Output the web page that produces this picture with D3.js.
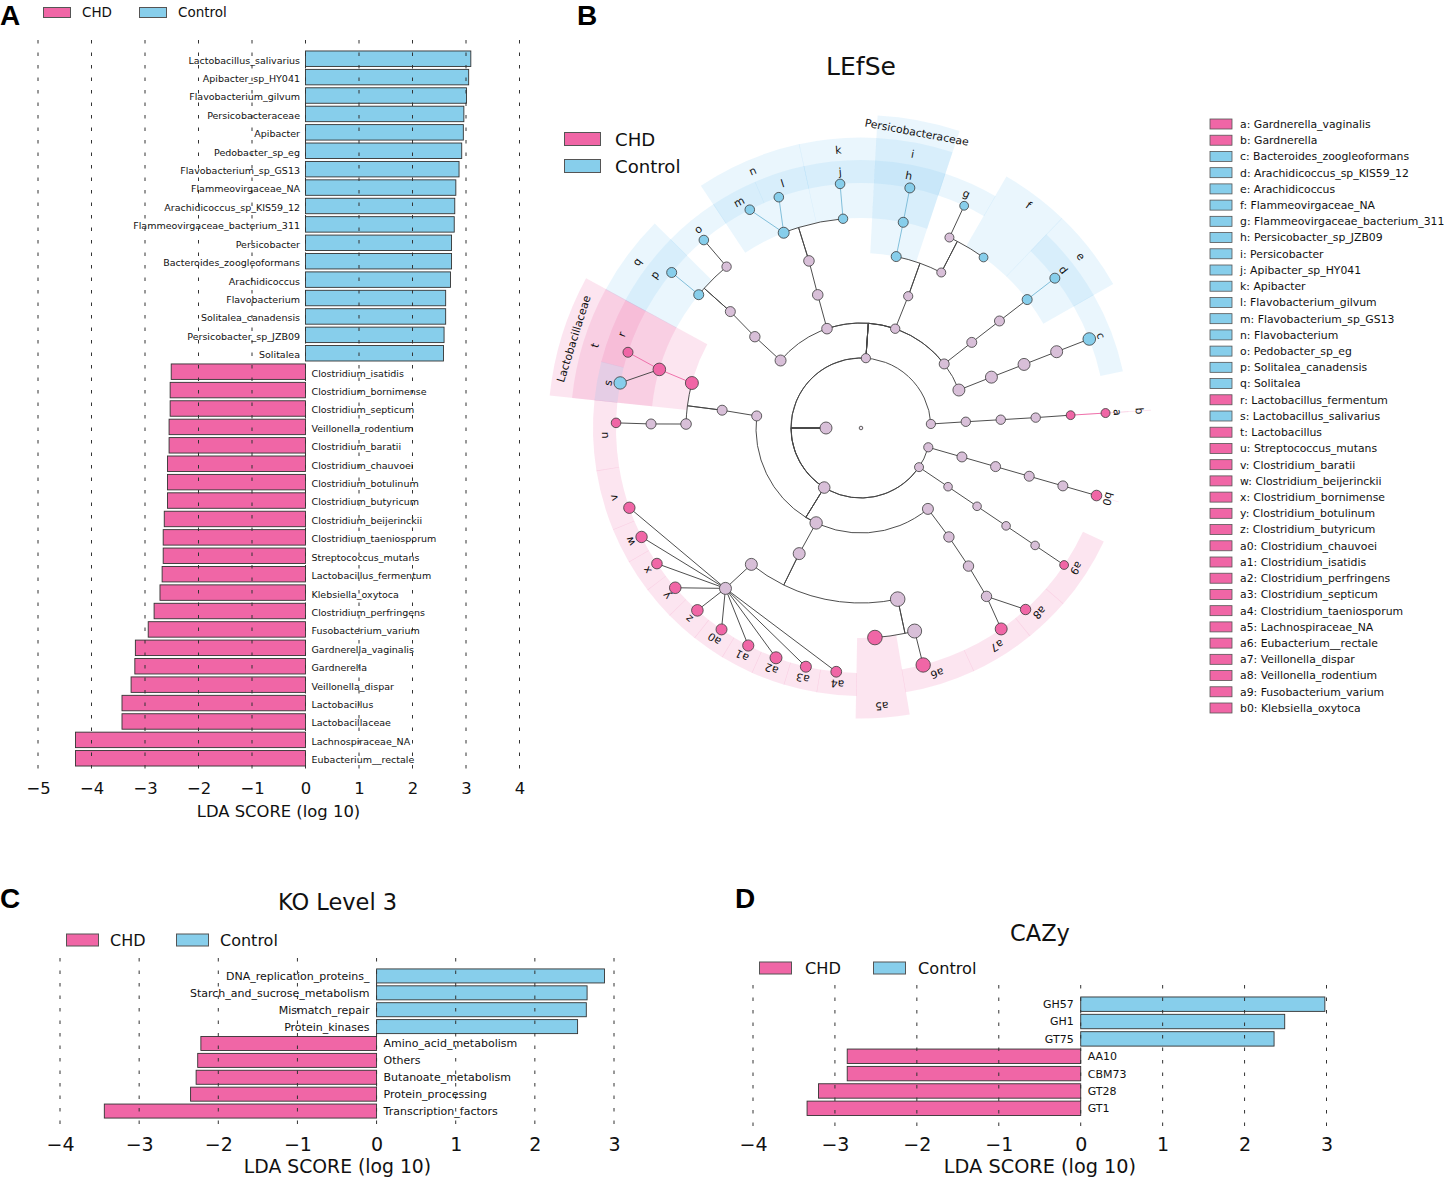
<!DOCTYPE html>
<html><head><meta charset="utf-8">
<script src="https://cdn.jsdelivr.net/npm/d3@7"></script>
<style>html,body{margin:0;padding:0;background:#fff}svg{display:block}text{font-family:"DejaVu Sans",sans-serif;fill:#111}</style>
</head><body><svg id="c" width="1444" height="1177"></svg>
<script>
const groups = ["CHD","Control"];
// Panel A
const aNames = ["Lactobacillus_salivarius","Apibacter_sp_HY041","Flavobacterium_gilvum","Persicobacteraceae","Apibacter","Pedobacter_sp_eg","Flavobacterium_sp_GS13","Flammeovirgaceae_NA","Arachidicoccus_sp_KIS59_12","Flammeovirgaceae_bacterium_311","Persicobacter","Bacteroides_zoogleoformans","Arachidicoccus","Flavobacterium","Solitalea_canadensis","Persicobacter_sp_JZB09","Solitalea","Clostridium_isatidis","Clostridium_bornimense","Clostridium_septicum","Veillonella_rodentium","Clostridium_baratii","Clostridium_chauvoei","Clostridium_botulinum","Clostridium_butyricum","Clostridium_beijerinckii","Clostridium_taeniosporum","Streptococcus_mutans","Lactobacillus_fermentum","Klebsiella_oxytoca","Clostridium_perfringens","Fusobacterium_varium","Gardnerella_vaginalis","Gardnerella","Veillonella_dispar","Lactobacillus","Lactobacillaceae","Lachnospiraceae_NA","Eubacterium__rectale"];
const aValues = [3.09,3.05,3.01,2.96,2.95,2.92,2.87,2.81,2.79,2.78,2.73,2.73,2.71,2.62,2.62,2.59,2.58,-2.51,-2.53,-2.53,-2.55,-2.55,-2.58,-2.58,-2.58,-2.64,-2.66,-2.66,-2.68,-2.72,-2.83,-2.94,-3.18,-3.19,-3.26,-3.43,-3.43,-4.3,-4.3];
const aTicks = [-5,-4,-3,-2,-1,0,1,2,3,4];
// Panel C
const cTitle = "KO Level 3";
const cNames = ["DNA_replication_proteins_","Starch_and_sucrose_metabolism","Mismatch_repair","Protein_kinases","Amino_acid_metabolism","Others","Butanoate_metabolism","Protein_processing","Transcription_factors"];
const cValues = [2.88,2.66,2.65,2.54,-2.22,-2.26,-2.28,-2.35,-3.44];
const cTicks = [-4,-3,-2,-1,0,1,2,3];
// Panel D
const dTitle = "CAZy";
const dNames = ["GH57","GH1","GT75","AA10","CBM73","GT28","GT1"];
const dValues = [2.98,2.49,2.36,-2.85,-2.85,-3.2,-3.34];
const dTicks = [-4,-3,-2,-1,0,1,2,3];
// Panel B: cladogram
const bTitle = "LEfSe";
const cladeIds = ["root","n1","A","B","C","D","E",
 "A1","A2","A3","b","a",
 "E1","E2","E3","E4","b0",
 "D1","D2","D3","D4","a9",
 "C1","C2","Lactobacillaceae","C3","t","r","s","C4","u",
 "C5","C6","C7","C8","v","w","x","y","z","a0","a1","a2","a3","a4",
 "C9","a5","C10","a6",
 "C11","C12","C13","C14","a7","a8",
 "B1","B2","B3","q","B4","p","o",
 "B5","B6","B7","n","k","m","l","j",
 "B8","B9","Persicobacteraceae","B10","i","h","B11","f","g",
 "B12","B13","B14","e","d",
 "B16","B17","B18","B19","c"];
const cladeParents = ["","root","n1","n1","n1","n1","n1",
 "A","A1","A2","A3","b",
 "E","E1","E2","E3","E4",
 "D","D1","D2","D3","D4",
 "C","C1","C2","C2","Lactobacillaceae","t","t","C3","C4",
 "C","C5","C6","C7","C8","C8","C8","C8","C8","C8","C8","C8","C8","C8",
 "C6","C9","C9","C10",
 "C","C11","C12","C13","C14","C14",
 "B","B1","B2","B3","B3","q","B4",
 "B","B5","B6","B7","B7","n","n","k",
 "B","B8","B9","B9","Persicobacteraceae","i","B10","B10","B11",
 "B","B12","B13","B14","e",
 "B","B16","B17","B18","B19"];
const cladeAngles = [0,180,3.3,86,238.3,326,344,
 3.4,3.4,3.4,3.5,3.5,
 344,344,344,344,344,
 326,326,326,326,326,
 173.4,172.7,165.1,178.7,163.8,162,169.4,178.9,178.8,
 244.7,243.8,231.2,229.8,199,206.4,213.6,220.7,228.1,235.3,242.6,249.7,257,264.2,
 282.1,273.8,284.8,284.7,
 309.6,308.9,307.9,306.7,304.9,312.2,
 140,139.3,138.3,140.6,129.8,140.6,129.9,
 108.9,108,107.3,111.6,94.9,117,109.6,94.9,
 71,70.3,78.4,62.7,78.4,78.5,65.1,54.3,65.1,
 37.6,37.7,37.7,37.7,37.7,
 21.2,21.3,21.3,21.3,21.3];
const cladeLevels = [0,1,2,2,2,2,2,
 3,4,5,6,7,
 3,4,5,6,7,
 3,4,5,6,7,
 3,4,5,5,6,7,7,6,7,
 3,4,5,6,7,7,7,7,7,7,7,7,7,7,
 5,6,6,7,
 3,4,5,6,7,7,
 3,4,5,6,6,7,7,
 3,4,5,6,6,7,7,7,
 3,4,5,5,6,7,6,6,7,
 3,4,5,6,7,
 3,4,5,6,7];
const cladeClasses = ["n","n","n","n","n","n","n",
 "n","n","n","CHD","CHD",
 "n","n","n","n","CHD",
 "n","n","n","n","CHD",
 "n","n","CHD","n","CHD","CHD","Control","n","CHD",
 "n","n","n","n","CHD","CHD","CHD","CHD","CHD","CHD","CHD","CHD","CHD","CHD",
 "n","CHD","n","CHD",
 "n","n","n","n","CHD","CHD",
 "n","n","n","Control","n","Control","Control",
 "n","n","n","Control","Control","Control","Control","Control",
 "n","n","Control","n","Control","Control","n","Control","Control",
 "n","n","n","Control","Control",
 "n","n","n","n","Control"];
const cladeSizes = [1.8,6,4.6,4.6,5.8,4.5,4.6,
 4.7,4.7,4.7,4.4,4.5,
 5,5,5,5,5.3,
 4.3,4.3,4.3,4.3,4.4,
 5,5,6.5,5.3,6.3,5,6.2,5,4.8,
 6.2,6,6,6,5.7,5.7,5.3,5.8,5.8,5.5,5.6,6,5.5,5.4,
 7.3,7.3,7,7.2,
 5.5,5.2,5.2,5.2,6,5.2,
 5.5,5.2,5,5,4.7,5,4.8,
 5.3,5.3,5.3,5.5,4.7,4.8,4.8,4.8,
 4.7,4.6,5,4.5,5,5,4.5,4.4,4.4,
 5,5,5,5,5,
 6,6,6,6,6.3];
const bandClades = ["Lactobacillaceae","t","r","s","q","p","o","n","m","l","k","j","Persicobacteraceae","i","h","g","f","e","d","c","a","b","b0","u","v","w","x","y","z","a0","a1","a2","a3","a4","a5","a6","a7","a8","a9"];
const bandFrom = [151.5,151.5,151.5,165.7,135.3,135.3,123.4,102.3,113.3,102.3,87,87,71.7,71.7,71.7,59.9,46.2,29.8,29.8,12.3,3.42,3.4,343.92,174,189.2,202.3,210,217.2,224.4,231.6,238.8,246,253.3,260.5,269,279.6,294.9,309.1,319];
const bandTo = [174,174,165.7,174,151.5,151.5,135.3,123.4,123.4,113.3,102.3,102.3,86.9,86.9,86.9,71.7,59.9,46.2,46.2,29.8,3.58,3.6,344.08,189.2,202.3,210,217.2,224.4,231.6,238.8,246,253.3,260.5,269,279.6,294.9,309.1,319,334.9];
const legendEntries = ["a: Gardnerella_vaginalis","b: Gardnerella","c: Bacteroides_zoogleoformans","d: Arachidicoccus_sp_KIS59_12","e: Arachidicoccus","f: Flammeovirgaceae_NA","g: Flammeovirgaceae_bacterium_311","h: Persicobacter_sp_JZB09","i: Persicobacter","j: Apibacter_sp_HY041","k: Apibacter","l: Flavobacterium_gilvum","m: Flavobacterium_sp_GS13","n: Flavobacterium","o: Pedobacter_sp_eg","p: Solitalea_canadensis","q: Solitalea","r: Lactobacillus_fermentum","s: Lactobacillus_salivarius","t: Lactobacillus","u: Streptococcus_mutans","v: Clostridium_baratii","w: Clostridium_beijerinckii","x: Clostridium_bornimense","y: Clostridium_botulinum","z: Clostridium_butyricum","a0: Clostridium_chauvoei","a1: Clostridium_isatidis","a2: Clostridium_perfringens","a3: Clostridium_septicum","a4: Clostridium_taeniosporum","a5: Lachnospiraceae_NA","a6: Eubacterium__rectale","a7: Veillonella_dispar","a8: Veillonella_rodentium","a9: Fusobacterium_varium","b0: Klebsiella_oxytoca"];
const legendClasses = ["CHD","CHD","Control","Control","Control","Control","Control","Control","Control","Control","Control","Control","Control","Control","Control","Control","Control","CHD","Control","CHD","CHD","CHD","CHD","CHD","CHD","CHD","CHD","CHD","CHD","CHD","CHD","CHD","CHD","CHD","CHD","CHD","CHD"];

const PINK="#f066a6", BLUE="#87ceeb", THISTLE="#d8bfd8", STROKE="#3a3a3a", BANDBLUE="#7cc8f2";
const fill = k => k==="CHD"?PINK:k==="Control"?BLUE:THISTLE;
const svg = d3.select("#c");

function legendRow(g, items){
  items.forEach(it=>{
    g.append("rect").attr("x",it.x).attr("y",it.y-it.h/2).attr("width",it.w).attr("height",it.h)
      .attr("fill",fill(it.k)).attr("stroke","#555").attr("stroke-width",1);
    g.append("text").attr("x",it.tx).attr("y",it.y).attr("dy",".36em").attr("font-size",it.fs).text(it.k);
  });
}
function letter(t,x,y){
  svg.append("text").attr("x",x).attr("y",y).text(t)
    .style("font-family","'Liberation Sans',sans-serif").style("font-weight","bold").attr("font-size",28).style("fill","#000");
}

function barPanel(o){
  const g = svg.append("g");
  const x = d3.scaleLinear().domain(o.xDomain).range(o.xRange);
  const y = d3.scaleBand().domain(o.names).range(o.yRange).paddingInner(o.pad).paddingOuter(o.pad/2);
  g.selectAll("rect.b").data(o.names).join("rect").attr("class","b")
    .attr("x",(d,i)=>x(Math.min(0,o.values[i]))).attr("y",d=>y(d))
    .attr("width",(d,i)=>Math.abs(x(o.values[i])-x(0))).attr("height",y.bandwidth())
    .attr("fill",(d,i)=>o.values[i]<0?PINK:BLUE).attr("stroke","#333").attr("stroke-width",0.9);
  const ax = d3.axisBottom(x).tickValues(o.ticks).tickSize(0).tickPadding(o.pad2).tickFormat(d=>d3.format("d")(d).replace("-","\u2212"));
  const ag = g.append("g").attr("transform",`translate(0,${o.axisY})`).call(ax);
  ag.select(".domain").remove();
  ag.selectAll("text").attr("font-size",o.tickFs).style("font-family","'DejaVu Sans'").style("fill","#111");
  g.selectAll("line.g").data(o.ticks).join("line").attr("class","g")
    .attr("x1",d=>x(d)).attr("x2",d=>x(d)).attr("y1",o.gridTop).attr("y2",o.axisY)
    .attr("stroke","#333").attr("stroke-width",1).attr("stroke-dasharray","3.5 9");
  g.selectAll("text.l").data(o.names).join("text").attr("class","l")
    .attr("x",(d,i)=>o.values[i]<0?x(0)+o.lblGap:x(0)-o.lblGapR)
    .attr("y",d=>y(d)+y.bandwidth()/2+o.lblDy).attr("dy",".36em")
    .attr("text-anchor",(d,i)=>o.values[i]<0?"start":"end")
    .attr("font-size",o.lblFs).text(d=>d);
  g.append("text").attr("x",o.xLabelX).attr("y",o.xLabelY).attr("dy",".36em").attr("text-anchor","middle")
    .attr("font-size",o.xLabelFs).text("LDA SCORE (log 10)");
  if(o.title) g.append("text").attr("x",o.titleX).attr("y",o.titleY).attr("dy",".36em").attr("text-anchor","middle").attr("font-size",o.titleFs).text(o.title);
  legendRow(g,o.legend);
}

barPanel({names:aNames,values:aValues,ticks:aTicks,xDomain:[-5,4],xRange:[38,519.5],yRange:[49.5,767.5],pad:0.16,
  axisY:776,gridTop:40,pad2:6.2,tickFs:16.4,lblFs:9.5,lblGap:6,lblGapR:5.5,lblDy:1.5,xLabelX:278.5,xLabelY:811.5,xLabelFs:16.4,
  legend:[{k:"CHD",x:43.5,y:12.5,w:27,h:10,tx:82,fs:13.5},{k:"Control",x:139.5,y:12.5,w:27,h:10,tx:178,fs:13.5}]});
barPanel({names:cNames,values:cValues,ticks:cTicks,xDomain:[-4,3],xRange:[60,614],yRange:[967.5,1119.5],pad:0.17,
  axisY:1132,gridTop:958,pad2:5.4,tickFs:19,lblFs:11,lblGap:7,lblGapR:7,lblDy:0,xLabelX:337.5,xLabelY:1166.5,xLabelFs:18.8,
  title:cTitle,titleX:337.5,titleY:902,titleFs:22.5,
  legend:[{k:"CHD",x:66.5,y:940,w:32,h:12,tx:110,fs:16},{k:"Control",x:176.5,y:940,w:32,h:12,tx:220,fs:16}]});
barPanel({names:dNames,values:dValues,ticks:dTicks,xDomain:[-4,3],xRange:[753,1326.5],yRange:[995.5,1117],pad:0.17,
  axisY:1132,gridTop:985,pad2:5.4,tickFs:19,lblFs:11,lblGap:7,lblGapR:7,lblDy:0,xLabelX:1040,xLabelY:1165.8,xLabelFs:19.3,
  title:dTitle,titleX:1040,titleY:933,titleFs:22.5,
  legend:[{k:"CHD",x:759.5,y:968,w:32,h:12,tx:805,fs:16.2},{k:"Control",x:873.5,y:968,w:32,h:12,tx:918,fs:16.2}]});

// Panel B
const cx=861, cy=428;
const rScale=d3.scaleLinear().domain([0,7]).range([0,245]);
const polar=(deg,r)=>[cx+r*Math.cos(deg*Math.PI/180), cy-r*Math.sin(deg*Math.PI/180)];
const nodes=cladeIds.map((id,i)=>({id,parent:cladeParents[i],angle:cladeAngles[i],level:cladeLevels[i],cls:cladeClasses[i],size:cladeSizes[i]}));
const byId=new Map(nodes.map(n=>[n.id,n]));
const childCount=d3.rollup(nodes,v=>v.length,n=>n.parent);
const bg=svg.append("g");
const bandArc=d3.arc();
const outer=l=>268+(7-l)*22.5;
const seam=0.06;
bg.selectAll("path").data(bandClades).join("path")
  .attr("transform",`translate(${cx},${cy})`)
  .attr("d",(d,i)=>{const n=byId.get(d);const s=(bandTo[i]-bandFrom[i])>1?seam:0;return bandArc({innerRadius:rScale(n.level),outerRadius:outer(n.level),
      startAngle:(90-bandTo[i]-s)*Math.PI/180,endAngle:(90-bandFrom[i]+s)*Math.PI/180});})
  .attr("fill",d=>byId.get(d).cls==="CHD"?PINK:BANDBLUE).attr("fill-opacity",d=>byId.get(d).cls==="CHD"?0.17:0.16);
const eg=svg.append("g").attr("fill","none");
eg.selectAll("path").data(nodes.filter(n=>n.parent&&n.parent!=="root")).join("path")
  .attr("d",n=>{
    const p=byId.get(n.parent), r=rScale(n.level), rp=rScale(p.level);
    const path=d3.path(); path.moveTo(...polar(p.angle,rp));
    if(childCount.get(n.parent)===1||n.level===7){path.lineTo(...polar(n.angle,r));return path.toString();}
    path.lineTo(...polar(p.angle,r));
    let diff=((n.angle-p.angle+540)%360)-180;
    path.arc(cx,cy,r,-p.angle*Math.PI/180,-(p.angle+diff)*Math.PI/180,diff>0);
    return path.toString();
  })
  .attr("stroke",n=>{const p=byId.get(n.parent);return p.cls===n.cls&&n.cls==="CHD"?"#ee6ba8":p.cls===n.cls&&n.cls==="Control"?"#7bbcd8":"#444";})
  .attr("stroke-width",0.95);
svg.append("g").selectAll("circle").data(nodes).join("circle")
  .attr("cx",n=>polar(n.angle,rScale(n.level))[0]).attr("cy",n=>polar(n.angle,rScale(n.level))[1])
  .attr("r",n=>n.size).attr("fill",n=>n.id==="root"?"#f2e8f2":fill(n.cls)).attr("stroke",STROKE).attr("stroke-width",0.8);
const lblR={7:257,6:279,5:301};
const labelAngle=d=>(bandFrom[bandClades.indexOf(d)]+bandTo[bandClades.indexOf(d)])/2;
svg.append("g").selectAll("text").data(bandClades).join("text")
  .attr("transform",d=>{const a=labelAngle(d),[x,y]=polar(a,lblR[byId.get(d).level]);return `translate(${x},${y}) rotate(${90-a})`;})
  .attr("text-anchor","middle").attr("dy",".36em").attr("font-size",10.8).text(d=>d);
svg.append("text").attr("x",861).attr("y",66).attr("dy",".36em").attr("text-anchor","middle").attr("font-size",25).text(bTitle);
legendRow(svg.append("g"),[{k:"CHD",x:564.5,y:139,w:36,h:13,tx:615,fs:18.1},{k:"Control",x:564.5,y:166,w:36,h:13,tx:615,fs:18.1}]);
const lg=svg.append("g");
const ly=d3.scalePoint().domain(legendEntries).range([124,708]);
lg.selectAll("rect").data(legendEntries).join("rect").attr("x",1210).attr("y",d=>ly(d)-5).attr("width",22).attr("height",10)
  .attr("fill",(d,i)=>fill(legendClasses[i])).attr("stroke","#555").attr("stroke-width",0.8);
lg.selectAll("text").data(legendEntries).join("text").attr("x",1240).attr("y",d=>ly(d)).attr("dy",".36em").attr("font-size",10.85).text(d=>d);

letter("A",0,25); letter("B",577,25); letter("C",0,908); letter("D",735,908);
</script></body></html>
